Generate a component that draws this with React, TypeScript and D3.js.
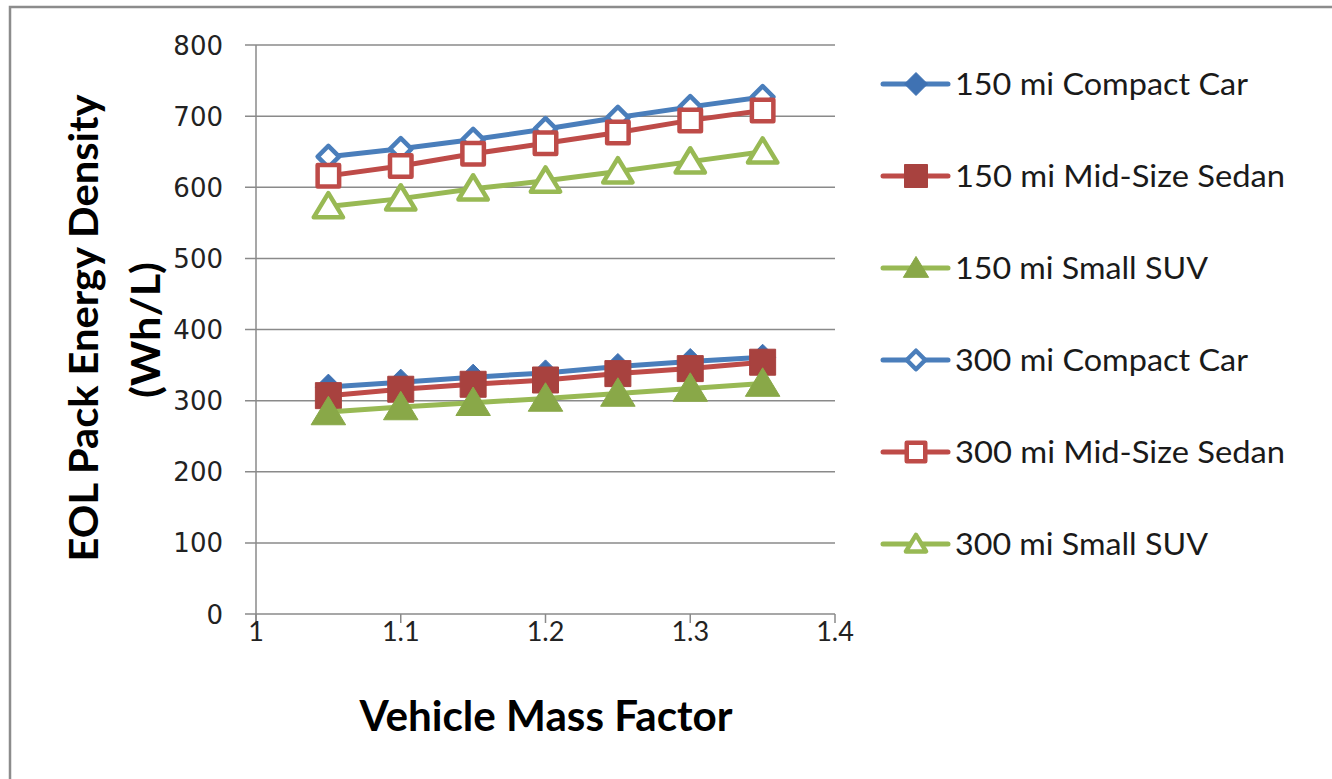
import React from 'react';
import * as d3 from 'd3';

const massFactors = [1.05, 1.1, 1.15, 1.2, 1.25, 1.3, 1.35];
const compact150 = [319, 326, 333, 339, 348, 355, 361];
const sedan150 = [307, 316, 323, 329, 338, 345, 354];
const suv150 = [284, 291, 297, 303, 310, 317, 324];
const compact300 = [643, 654, 667, 682, 698, 713, 727];
const sedan300 = [616, 630, 647, 662, 677, 694, 708];
const suv300 = [573, 584, 598, 609, 622, 636, 650];
const seriesNames = [
  '150 mi Compact Car',
  '150 mi Mid-Size Sedan',
  '150 mi Small SUV',
  '300 mi Compact Car',
  '300 mi Mid-Size Sedan',
  '300 mi Small SUV',
];
const yTicks = [0, 100, 200, 300, 400, 500, 600, 700, 800];
const xTicks = [1, 1.1, 1.2, 1.3, 1.4];
const xTitle = 'Vehicle Mass Factor';
const yTitle1 = 'EOL Pack Energy Density';
const yTitle2 = '(Wh/L)';

type Shape = 'diamond' | 'square' | 'triangle';
interface Series {
  name: string;
  values: number[];
  line: string;
  fill: string;
  stroke: string;
  shape: Shape;
  open: boolean;
}

const series: Series[] = [
  { name: seriesNames[0], values: compact150, line: '#4A7EBB', fill: '#3F72B3', stroke: '#3F72B3', shape: 'diamond', open: false },
  { name: seriesNames[1], values: sedan150, line: '#BE4B48', fill: '#A8423F', stroke: '#A8423F', shape: 'square', open: false },
  { name: seriesNames[2], values: suv150, line: '#98B954', fill: '#89A848', stroke: '#89A848', shape: 'triangle', open: false },
  { name: seriesNames[3], values: compact300, line: '#4A7EBB', fill: '#FFFFFF', stroke: '#4A7EBB', shape: 'diamond', open: true },
  { name: seriesNames[4], values: sedan300, line: '#BE4B48', fill: '#FFFFFF', stroke: '#BE4B48', shape: 'square', open: true },
  { name: seriesNames[5], values: suv300, line: '#98B954', fill: '#FFFFFF', stroke: '#98B954', shape: 'triangle', open: true },
];

const legendText = [293, 330, 253, 293, 330, 253];

function markerPath(shape: Shape, cx: number, cy: number, s: number, open: boolean): string {
  const r = open ? s / 2 - 2.25 : s / 2;
  if (shape === 'square') {
    return `M${cx - r},${cy - r}H${cx + r}V${cy + r}H${cx - r}Z`;
  }
  if (shape === 'diamond') {
    return `M${cx},${cy - r}L${cx + r},${cy}L${cx},${cy + r}L${cx - r},${cy}Z`;
  }
  const w = r * 1.15;
  const hTop = r * 1.05;
  const hBot = r * 0.85;
  return `M${cx},${cy - hTop}L${cx + w},${cy + hBot}L${cx - w},${cy + hBot}Z`;
}

function markerSize(shape: Shape): number {
  if (shape === 'square') return 26;
  if (shape === 'diamond') return 26;
  return 30;
}

export default function App() {
  const x0 = 256, x1 = 835, y0 = 614, y1 = 45;
  const x = d3.scaleLinear().domain([1, 1.4]).range([x0, x1]);
  const y = d3.scaleLinear().domain([0, 800]).range([y0, y1]);
  const line = d3.line<number>()
    .x((_, i) => x(massFactors[i]))
    .y((d) => y(d));

  const grid = '#8A8A8A';
  const legendY0 = 84;
  const legendStep = 92;

  return (
    <svg
      width={1332}
      height={779}
      style={{ position: 'absolute', left: 0, top: 0, background: '#fff' }}
    >
      <rect x={10} y={7} width={1340} height={800} fill="#fff" stroke="#8C8C8C" strokeWidth={2.5} />

      {yTicks.map((t) => (
        <line key={'g' + t} x1={x0 - 11} x2={x1} y1={y(t)} y2={y(t)} stroke={grid} strokeWidth={1.5} />
      ))}
      <line x1={x0} x2={x0} y1={y1} y2={y0 + 9} stroke={grid} strokeWidth={1.5} />
      {xTicks.map((t) => (
        <line key={'xt' + t} x1={x(t)} x2={x(t)} y1={y0} y2={y0 + 9} stroke={grid} strokeWidth={1.5} />
      ))}

      {yTicks.map((t) => (
        <text key={'yl' + t} x={223} y={y(t) + 9.5} textAnchor="end" fontFamily="DejaVu Sans" fontSize={26} fill="#222">
          {t}
        </text>
      ))}
      {xTicks.map((t) => (
        <text key={'xl' + t} x={x(t)} y={641} textAnchor="middle" fontFamily="Lato" fontSize={27} fill="#222">
          {d3.format('~g')(t)}
        </text>
      ))}

      {series.map((s, si) => (
        <g key={'s' + si}>
          <path d={line(s.values) || ''} fill="none" stroke={s.line} strokeWidth={5} strokeLinejoin="round" strokeLinecap="round" />
          {s.values.map((v, i) => (
            <path
              key={i}
              d={markerPath(s.shape, x(massFactors[i]), y(v), markerSize(s.shape), s.open)}
              fill={s.fill}
              stroke={s.stroke}
              strokeWidth={s.open ? 4.5 : 1}
              strokeLinejoin="round"
            />
          ))}
        </g>
      ))}

      {series.map((s, si) => {
        const ly = legendY0 + si * legendStep;
        return (
          <g key={'l' + si}>
            <line x1={883} x2={948} y1={ly} y2={ly} stroke={s.line} strokeWidth={5} strokeLinecap="round" />
            <path
              d={markerPath(s.shape, 916, ly, s.shape === 'triangle' ? 22 : 23, s.open)}
              fill={s.fill}
              stroke={s.stroke}
              strokeWidth={s.open ? 4.5 : 1}
              strokeLinejoin="round"
            />
            <text
              x={955}
              y={ly + 11}
              fontFamily="Lato"
              fontSize={30}
              fill="#1a1a1a"
              textLength={legendText[si]}
              lengthAdjust="spacingAndGlyphs"
            >
              {s.name}
            </text>
          </g>
        );
      })}

      <text
        x={546}
        y={731}
        textAnchor="middle"
        fontFamily="Lato"
        fontWeight="bold"
        fontSize={42}
        fill="#000"
        textLength={373}
        lengthAdjust="spacingAndGlyphs"
      >
        {xTitle}
      </text>
      <text
        transform="translate(98,328) rotate(-90)"
        textAnchor="middle"
        fontFamily="Lato"
        fontWeight="bold"
        fontSize={40}
        fill="#000"
        textLength={467}
        lengthAdjust="spacingAndGlyphs"
      >
        {yTitle1}
      </text>
      <text
        transform="translate(160,330) rotate(-90)"
        textAnchor="middle"
        fontFamily="Lato"
        fontWeight="bold"
        fontSize={40}
        fill="#000"
        textLength={136}
        lengthAdjust="spacingAndGlyphs"
      >
        {yTitle2}
      </text>
    </svg>
  );
}
